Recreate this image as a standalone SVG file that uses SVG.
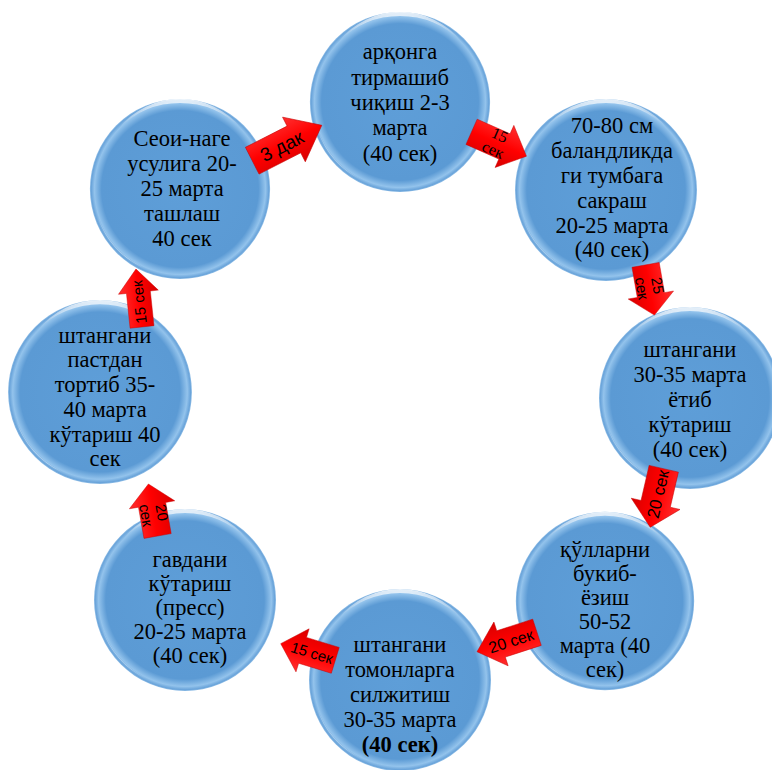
<svg xmlns="http://www.w3.org/2000/svg" xmlns:xlink="http://www.w3.org/1999/xlink" width="772" height="770" viewBox="0 0 772 770">
<defs>
<radialGradient id="ballFill" cx="50%" cy="50%" r="50%">
<stop offset="0" stop-color="#5e9ed8"/>
<stop offset="0.87" stop-color="#5b9ad4"/>
<stop offset="0.95" stop-color="#93c3ec"/>
<stop offset="0.985" stop-color="#6aa4da"/>
<stop offset="1" stop-color="#8fbde6"/>
</radialGradient>
<linearGradient id="hiGrad" x1="0" y1="0" x2="0" y2="1">
<stop offset="0" stop-color="#ffffff" stop-opacity="0.85"/>
<stop offset="1" stop-color="#ffffff" stop-opacity="0"/>
</linearGradient>
<linearGradient id="arrowFill" x1="0" y1="0" x2="0" y2="1">
<stop offset="0" stop-color="#ff3030"/>
<stop offset="0.5" stop-color="#ff0000"/>
<stop offset="1" stop-color="#d80000"/>
</linearGradient>
<g id="ball">
<circle r="91" fill="url(#ballFill)"/>
<path d="M-62,-61 A87,87 0 0 1 62,-61 A79,79 0 0 0 -62,-61 Z" fill="url(#hiGrad)"/>
<path d="M-83,28 A88,88 0 0 0 -38,79 A83,83 0 0 1 -83,28 Z" fill="#ffffff" opacity="0.5"/>
</g>
<path id="arr" d="M-30,-15 L6,-15 L6,-25 L30,0 L6,25 L6,15 L-30,15 Z"/>
<style>
.arrow{fill:url(#arrowFill);stroke:#c80000;stroke-width:0.5}
.lbl{font-family:'Liberation Serif','DejaVu Serif','Times New Roman',serif;font-size:22.5px;text-anchor:middle;fill:#000}
.sf{font-family:'Liberation Sans','DejaVu Sans',Arial,sans-serif;text-anchor:middle;fill:#000}
.srf{font-family:'Liberation Serif','DejaVu Serif','Times New Roman',serif;text-anchor:middle;fill:#000}
</style>
</defs>
<rect width="772" height="770" fill="#ffffff"/>

<g id="node-top">
<use xlink:href="#ball" transform="translate(400,102) scale(0.99)"/>
<text class="lbl"><tspan x="400" y="59">арқонга</tspan><tspan x="400" y="85">тирмашиб</tspan><tspan x="400" y="110">чиқиш 2-3</tspan><tspan x="400" y="135">марта</tspan><tspan x="400" y="161">(40 сек)</tspan></text>
</g>
<g id="node-upper-left">
<use xlink:href="#ball" transform="translate(180,189) scale(0.99)"/>
<text class="lbl"><tspan x="182" y="146">Сеои-наге</tspan><tspan x="182" y="171">усулига 20-</tspan><tspan x="182" y="196">25 марта</tspan><tspan x="182" y="221">ташлаш</tspan><tspan x="182" y="246">40 сек</tspan></text>
</g>
<g id="node-upper-right">
<use xlink:href="#ball" transform="translate(606,190)"/>
<text class="lbl"><tspan x="612" y="133">70-80 см</tspan><tspan x="612" y="158">баландликда</tspan><tspan x="612" y="183">ги тумбага</tspan><tspan x="612" y="208">сакраш</tspan><tspan x="612" y="233">20-25 марта</tspan><tspan x="612" y="257">(40 сек)</tspan></text>
</g>
<g id="node-right">
<use xlink:href="#ball" transform="translate(690,398)"/>
<text class="lbl"><tspan x="690" y="357">штангани</tspan><tspan x="690" y="382">30-35 марта</tspan><tspan x="690" y="407">ётиб</tspan><tspan x="690" y="432">кўтариш</tspan><tspan x="690" y="457">(40 сек)</tspan></text>
</g>
<g id="node-lower-right">
<use xlink:href="#ball" transform="translate(605,601) scale(0.98)"/>
<text class="lbl"><tspan x="605" y="557">қўлларни</tspan><tspan x="605" y="581">букиб-</tspan><tspan x="605" y="605">ёзиш</tspan><tspan x="605" y="629">50-52</tspan><tspan x="605" y="653">марта (40</tspan><tspan x="605" y="677">сек)</tspan></text>
</g>
<g id="node-bottom">
<use xlink:href="#ball" transform="translate(400,680)"/>
<text class="lbl"><tspan x="400" y="652">штангани</tspan><tspan x="400" y="677">томонларга</tspan><tspan x="400" y="702">силжитиш</tspan><tspan x="400" y="727">30-35 марта</tspan><tspan x="400" y="752" font-weight="bold">(40 сек)</tspan></text>
</g>
<g id="node-lower-left">
<use xlink:href="#ball" transform="translate(185,600)"/>
<text class="lbl"><tspan x="190" y="567">гавдани</tspan><tspan x="190" y="591">кўтариш</tspan><tspan x="190" y="615">(пресс)</tspan><tspan x="190" y="639">20-25 марта</tspan><tspan x="190" y="663">(40 сек)</tspan></text>
</g>
<g id="node-left">
<use xlink:href="#ball" transform="translate(100,392) scale(1.01)"/>
<text class="lbl"><tspan x="105" y="343">штангани</tspan><tspan x="105" y="367">пастдан</tspan><tspan x="105" y="392">тортиб 35-</tspan><tspan x="105" y="417">40 марта</tspan><tspan x="105" y="442">кўтариш 40</tspan><tspan x="105" y="466">сек</tspan></text>
</g>

<g id="connectors">
<g transform="translate(287,143) rotate(-27)">
<use xlink:href="#arr" class="arrow" transform="scale(1.3,1)"/>
<text class="sf" x="-6" y="7" font-size="19">3 дак</text>
</g>
<g transform="translate(499,144) rotate(24)">
<use xlink:href="#arr" class="arrow" transform="scale(1,0.92)"/>
<text class="srf" x="-3" y="-3" font-size="16">15</text>
<text class="srf" x="-3" y="13" font-size="16">сек</text>
</g>
<g transform="translate(650,290) rotate(80)">
<use xlink:href="#arr" class="arrow" transform="scale(0.85,0.92)"/>
<text class="sf" x="-3" y="-3" font-size="15">25</text>
<text class="sf" x="-3" y="13" font-size="15">сек</text>
</g>
<g transform="translate(657,498) rotate(103)">
<use xlink:href="#arr" class="arrow"/>
<text class="sf" transform="rotate(180)" x="4" y="6" font-size="17">20 сек</text>
</g>
<g transform="translate(507,642) rotate(162)">
<use xlink:href="#arr" class="arrow" transform="scale(1.05,0.92)"/>
<text class="sf" transform="rotate(180)" x="4" y="6" font-size="16">20 сек</text>
</g>
<g transform="translate(308,652) rotate(197)">
<use xlink:href="#arr" class="arrow" transform="scale(0.95,0.9)"/>
<text class="sf" transform="rotate(180)" x="4" y="5" font-size="15">15 сек</text>
</g>
<g transform="translate(153,510) rotate(-100)">
<use xlink:href="#arr" class="arrow" transform="scale(0.88,0.92)"/>
<text class="sf" transform="rotate(180)" x="4" y="-3" font-size="15">20</text>
<text class="sf" transform="rotate(180)" x="4" y="13" font-size="15">сек</text>
</g>
<g transform="translate(139,298) rotate(-96)">
<use xlink:href="#arr" class="arrow" transform="scale(0.97,0.8)"/>
<text class="sf" x="-4" y="5" font-size="15">15 сек</text>
</g>
</g>
</svg>
